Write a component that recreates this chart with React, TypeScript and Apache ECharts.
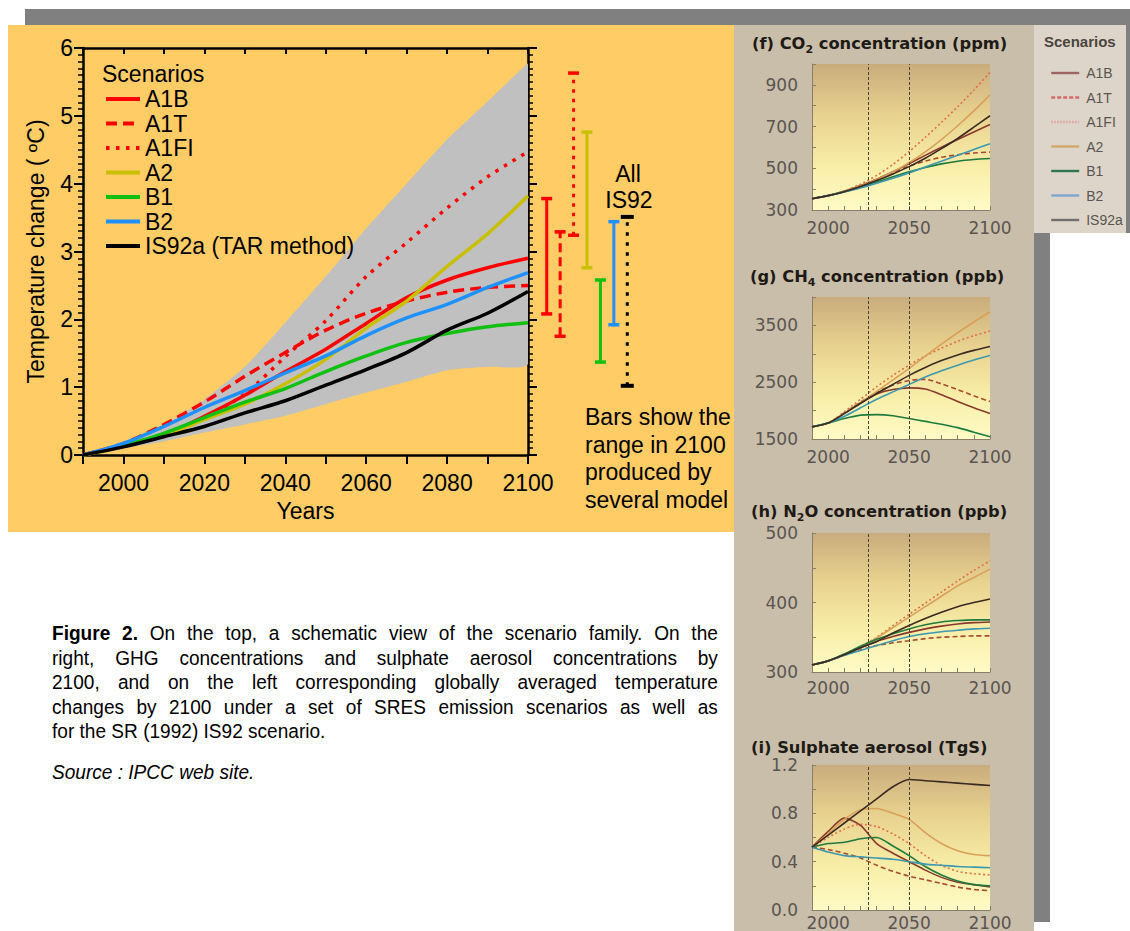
import React, { useEffect, useRef } from "react";
import * as echarts from "echarts";

// ---------------- data ----------------
const years = [1990, 2000, 2010, 2020, 2030, 2040, 2050, 2060, 2070, 2080, 2090, 2100];
const mainXLabels = [2000, 2020, 2040, 2060, 2080, 2100];
const smallXLabels = [2000, 2050, 2100];
const refYears = [2025, 2050];

const scenarioNames = ["A1B", "A1T", "A1FI", "A2", "B1", "B2", "IS92a (TAR method)"];
const tempA1B = [0, 0.14, 0.29, 0.57, 0.88, 1.23, 1.56, 1.94, 2.32, 2.58, 2.76, 2.9];
const tempA1T = [0, 0.17, 0.45, 0.78, 1.16, 1.51, 1.84, 2.09, 2.27, 2.4, 2.47, 2.5];
const tempA1FI = [0, 0.15, 0.3, 0.55, 0.9, 1.45, 1.98, 2.63, 3.13, 3.64, 4.1, 4.47];
const tempA2 = [0, 0.13, 0.29, 0.52, 0.75, 1.05, 1.41, 1.87, 2.27, 2.78, 3.26, 3.82];
const tempB1 = [0, 0.14, 0.32, 0.55, 0.78, 0.98, 1.23, 1.46, 1.66, 1.79, 1.89, 1.95];
const tempB2 = [0, 0.17, 0.42, 0.7, 0.95, 1.21, 1.46, 1.76, 2.02, 2.22, 2.47, 2.69];
const tempIS92a = [0, 0.12, 0.27, 0.42, 0.62, 0.8, 1.03, 1.26, 1.51, 1.84, 2.09, 2.41];
const envUpper = [0, 0.17, 0.45, 0.82, 1.3, 1.95, 2.63, 3.34, 4.0, 4.65, 5.21, 5.77];
const envLower = [0, 0.1, 0.2, 0.33, 0.45, 0.58, 0.75, 0.92, 1.08, 1.25, 1.3, 1.35];

const barNames = ["A1B", "A1T", "A1FI", "A2", "B1", "B2", "IS92"];
const barLow = [2.08, 1.75, 3.24, 2.76, 1.37, 1.92, 1.02];
const barHigh = [3.78, 3.29, 5.63, 4.76, 2.58, 3.44, 3.51];

const smallNames = ["A1B", "A1T", "A1FI", "A2", "B1", "B2", "IS92a"];
const co2A1B = [354, 369, 390, 417, 448, 483, 522, 562, 601, 638, 674, 710];
const co2A1T = [354, 369, 390, 417, 448, 480, 510, 535, 553, 565, 573, 578];
const co2A1FI = [354, 369, 392, 424, 466, 518, 580, 648, 720, 795, 875, 960];
const co2A2 = [354, 369, 389, 415, 446, 483, 527, 579, 638, 704, 775, 852];
const co2B1 = [354, 369, 388, 410, 434, 459, 483, 504, 521, 534, 542, 547];
const co2B2 = [354, 369, 386, 406, 428, 452, 478, 506, 534, 562, 590, 618];
const co2IS92a = [354, 369, 388, 413, 441, 473, 508, 548, 594, 643, 697, 752];

const ch4A1B = [1714, 1780, 1950, 2130, 2290, 2370, 2400, 2380, 2280, 2160, 2050, 1950];
const ch4A1T = [1714, 1780, 1960, 2150, 2320, 2450, 2530, 2550, 2470, 2370, 2260, 2160];
const ch4A1FI = [1714, 1780, 1980, 2200, 2420, 2620, 2800, 2960, 3100, 3220, 3320, 3400];
const ch4A2 = [1714, 1780, 1950, 2140, 2340, 2540, 2740, 2960, 3170, 3370, 3560, 3740];
const ch4B1 = [1714, 1780, 1860, 1920, 1930, 1910, 1860, 1810, 1760, 1700, 1620, 1540];
const ch4B2 = [1714, 1780, 1900, 2050, 2200, 2330, 2460, 2590, 2700, 2800, 2890, 2970];
const ch4IS92a = [1714, 1780, 1950, 2130, 2300, 2460, 2620, 2760, 2880, 2980, 3060, 3130];

const n2oA1B = [310, 316, 325, 335, 344, 351, 357, 362, 366, 369, 371, 372];
const n2oA1T = [310, 316, 324, 332, 338, 342, 345, 348, 350, 351, 352, 352];
const n2oA1FI = [310, 316, 326, 337, 350, 367, 383, 399, 415, 431, 446, 460];
const n2oA2 = [310, 316, 325, 336, 349, 364, 379, 394, 409, 424, 436, 448];
const n2oB1 = [310, 316, 326, 337, 347, 355, 362, 368, 372, 374, 375, 375];
const n2oB2 = [310, 316, 324, 331, 338, 345, 351, 355, 358, 360, 362, 363];
const n2oIS92a = [310, 316, 325, 335, 344, 356, 367, 377, 386, 394, 400, 405];

const so4A1B = [0.52, 0.65, 0.76, 0.7, 0.55, 0.47, 0.4, 0.33, 0.27, 0.23, 0.21, 0.19];
const so4A1T = [0.52, 0.5, 0.47, 0.43, 0.37, 0.32, 0.28, 0.25, 0.22, 0.19, 0.17, 0.16];
const so4A1FI = [0.52, 0.6, 0.67, 0.71, 0.69, 0.63, 0.55, 0.45, 0.37, 0.32, 0.3, 0.29];
const so4A2 = [0.52, 0.63, 0.75, 0.83, 0.84, 0.8, 0.75, 0.64, 0.55, 0.49, 0.46, 0.45];
const so4B1 = [0.52, 0.55, 0.56, 0.59, 0.6, 0.53, 0.45, 0.36, 0.29, 0.24, 0.21, 0.2];
const so4B2 = [0.52, 0.48, 0.45, 0.44, 0.43, 0.42, 0.4, 0.38, 0.37, 0.36, 0.355, 0.35];
const so4IS92a = [0.52, 0.62, 0.72, 0.82, 0.92, 1.02, 1.08, 1.07, 1.06, 1.05, 1.04, 1.03];

const co2Labels = [300, 500, 700, 900];
const ch4Labels = [1500, 2500, 3500];
const n2oLabels = [300, 400, 500];
const so4Labels = [0, 0.4, 0.8, 1.2];

const captionLines = [
  " On the top, a schematic view of the scenario family. On the",
  "right, GHG concentrations and sulphate aerosol concentrations by",
  "2100, and on the left corresponding globally averaged temperature",
  "changes by 2100 under a set of SRES emission scenarios as well as",
  "for the SR (1992) IS92 scenario.",
];

// ---------------- styles ----------------
const FONT = "'Liberation Sans', Arial, Helvetica, sans-serif";
const NARROW = "'Liberation Sans Narrow', 'Arial Narrow', 'Liberation Sans', sans-serif";
const DEJAVU = "'DejaVu Sans', Verdana, sans-serif";

const mainStyles: any[] = [
  { color: "#FF0000", type: "solid" },
  { color: "#FF0000", type: [11, 6] },
  { color: "#FF0000", type: [3.5, 6.5] },
  { color: "#C8C000", type: "solid" },
  { color: "#11C011", type: "solid" },
  { color: "#1E90FF", type: "solid" },
  { color: "#000000", type: "solid" },
];
const barStyles: any[] = [
  { color: "#FF0000", dash: null, cap: 5.5, capW: 3.5 },
  { color: "#FF0000", dash: [9, 5], cap: 5.5, capW: 3.5 },
  { color: "#FF0000", dash: [3.5, 6], cap: 5.5, capW: 3.5 },
  { color: "#C8C000", dash: null, cap: 5.5, capW: 3.5 },
  { color: "#11C011", dash: null, cap: 5.5, capW: 3.5 },
  { color: "#1E90FF", dash: null, cap: 5.5, capW: 3.5 },
  { color: "#000000", dash: [3.5, 6.5], cap: 6.5, capW: 4 },
];
const smallStyles: any[] = [
  { color: "#8A3A2C", type: "solid" },
  { color: "#A84A30", type: [5, 3] },
  { color: "#E07048", type: [2, 2.5] },
  { color: "#D9A058", type: "solid" },
  { color: "#1E7A3E", type: "solid" },
  { color: "#3E98B0", type: "solid" },
  { color: "#3B2A22", type: "solid" },
];
const legendStyles: any[] = [
  { color: "#9E6464", type: "solid" },
  { color: "#D46A6A", type: [4, 2] },
  { color: "#E2A0A0", type: [1.5, 1.5] },
  { color: "#D2A86A", type: "solid" },
  { color: "#2F7552", type: "solid" },
  { color: "#7FA6CE", type: "solid" },
  { color: "#707070", type: "solid" },
];

const pairs = (vals: number[]) => years.map((y, i) => [y, vals[i]]);

function buildLeft(): any {
  const mainValues = [tempA1B, tempA1T, tempA1FI, tempA2, tempB1, tempB2, tempIS92a];
  const axisLineStyle = { color: "#000", width: 2.5 };
  const series: any[] = [
    {
      type: "custom", name: "envelope", xAxisIndex: 0, yAxisIndex: 0, z: 1, silent: true,
      data: years.map((y, i) => [y, envLower[i], envUpper[i]]),
      renderItem: (params: any, api: any) => {
        if (params.dataIndex !== 0) return null;
        const up = years.map((y, i) => api.coord([y, envUpper[i]]));
        const lo = years.map((y, i) => api.coord([y, envLower[i]])).reverse();
        const pts = up.concat(lo);
        let minX = Infinity, minY = Infinity, maxX = -Infinity, maxY = -Infinity;
        pts.forEach((p: number[]) => {
          minX = Math.min(minX, p[0]); maxX = Math.max(maxX, p[0]);
          minY = Math.min(minY, p[1]); maxY = Math.max(maxY, p[1]);
        });
        return {
          type: "polygon",
          shape: { points: pts, smooth: 0.2, smoothConstraint: [[minX, minY], [maxX, maxY]] },
          style: { fill: "#C0C0C0" },
        };
      },
    },
  ];
  scenarioNames.forEach((name, i) => {
    series.push({
      type: "line", name, xAxisIndex: 0, yAxisIndex: 0,
      data: pairs(mainValues[i]), symbol: "none", smooth: 0.3,
      lineStyle: { color: mainStyles[i].color, width: 3.5, type: mainStyles[i].type, cap: "butt" },
      itemStyle: { color: mainStyles[i].color }, z: 3,
    });
  });
  series.push({
    type: "custom", name: "ranges", xAxisIndex: 2, yAxisIndex: 2, z: 3,
    data: barNames.map((n, i) => [i, barLow[i], barHigh[i]]),
    renderItem: (params: any, api: any) => {
      const s = barStyles[params.dataIndex];
      const lo = api.coord([api.value(0), api.value(1)]);
      const hi = api.coord([api.value(0), api.value(2)]);
      const lineStyle: any = { stroke: s.color, lineWidth: 3 };
      if (s.dash) lineStyle.lineDash = s.dash;
      return {
        type: "group",
        children: [
          { type: "line", shape: { x1: lo[0], y1: lo[1], x2: hi[0], y2: hi[1] }, style: lineStyle },
          { type: "line", shape: { x1: lo[0] - s.cap, y1: lo[1], x2: lo[0] + s.cap, y2: lo[1] }, style: { stroke: s.color, lineWidth: s.capW } },
          { type: "line", shape: { x1: hi[0] - s.cap, y1: hi[1], x2: hi[0] + s.cap, y2: hi[1] }, style: { stroke: s.color, lineWidth: s.capW } },
        ],
      };
    },
  });

  return {
    animation: false,
    backgroundColor: "transparent",
    textStyle: { fontFamily: FONT },
    grid: [
      { left: 75, top: 23, width: 445, height: 407 },
      { left: 532, top: 23, width: 94, height: 407 },
    ],
    xAxis: [
      {
        gridIndex: 0, type: "value", min: 1990, max: 2100, interval: 10,
        axisLine: { onZero: false, lineStyle: axisLineStyle },
        axisTick: { length: 9, lineStyle: { color: "#000", width: 2 } },
        axisLabel: {
          margin: 16, fontSize: 23, color: "#000", fontFamily: FONT,
          formatter: (v: number) => (mainXLabels.includes(v) ? String(v) : ""),
        },
        splitLine: { show: false },
        name: "Years", nameLocation: "middle", nameGap: 44,
        nameTextStyle: { fontSize: 23, color: "#000", fontFamily: FONT },
      },
      {
        gridIndex: 0, type: "value", position: "top", min: 1990, max: 2100, interval: 10,
        axisLine: { onZero: false, lineStyle: axisLineStyle },
        axisTick: { inside: true, length: 6, lineStyle: { color: "#000", width: 2 } },
        axisLabel: { show: false }, splitLine: { show: false },
      },
      { gridIndex: 1, type: "category", data: barNames, show: false, boundaryGap: true },
    ],
    yAxis: [
      {
        gridIndex: 0, type: "value", min: 0, max: 6, interval: 1,
        axisLine: { show: true, onZero: false, lineStyle: axisLineStyle },
        axisTick: { show: true, length: 9, lineStyle: { color: "#000", width: 2 } },
        minorTick: { show: true, splitNumber: 10, length: 5, lineStyle: { color: "#000", width: 1.5 } },
        axisLabel: { margin: 10, fontSize: 23, color: "#000", fontFamily: FONT },
        splitLine: { show: false }, minorSplitLine: { show: false },
        name: "Temperature change ( ºC)", nameLocation: "middle", nameGap: 36, nameRotate: 90,
        nameTextStyle: { fontSize: 23, color: "#000", fontFamily: FONT },
      },
      {
        gridIndex: 0, type: "value", position: "right", min: 0, max: 6, interval: 1,
        axisLine: { show: true, onZero: false, lineStyle: axisLineStyle },
        axisTick: { show: true, length: 9, lineStyle: { color: "#000", width: 2 } },
        minorTick: { show: true, splitNumber: 10, length: 5, lineStyle: { color: "#000", width: 1.5 } },
        axisLabel: { show: false }, splitLine: { show: false },
      },
      { gridIndex: 1, type: "value", min: 0, max: 6, show: false },
    ],
    legend: {
      orient: "vertical", left: 91, top: 57.5, itemWidth: 34, itemHeight: 14, itemGap: 1.5,
      selectedMode: false,
      textStyle: { fontSize: 23, color: "#000", fontFamily: FONT },
      itemStyle: { opacity: 0 },
      data: scenarioNames.map((n, i) => ({
        name: n,
        itemStyle: { opacity: 0 },
        lineStyle: { color: mainStyles[i].color, width: 4, type: mainStyles[i].type },
      })),
    },
    graphic: [
      { type: "text", x: 94, y: 49, style: { text: "Scenarios", fontSize: 23, fontFamily: FONT, fill: "#000", align: "left", verticalAlign: "middle", textAlign: "left", textVerticalAlign: "middle" } },
      { type: "text", x: 620, y: 149, style: { text: "All", fontSize: 23, fontFamily: FONT, fill: "#000", align: "center", verticalAlign: "middle", textAlign: "center", textVerticalAlign: "middle" } },
      { type: "text", x: 621, y: 175, style: { text: "IS92", fontSize: 23, fontFamily: FONT, fill: "#000", align: "center", verticalAlign: "middle", textAlign: "center", textVerticalAlign: "middle" } },
      {
        type: "text", x: 577, y: 378,
        style: { text: "Bars show the\nrange in 2100\nproduced by\nseveral model", fontSize: 23, lineHeight: 27.7, fontFamily: FONT, fill: "#000", align: "left", verticalAlign: "top", textAlign: "left", textVerticalAlign: "top" },
      },
    ],
    series,
  };
}

function buildRight(): any {
  const gradient = () =>
    new echarts.graphic.LinearGradient(0, 0, 0, 1, [
      { offset: 0, color: "#C9AC7C" },
      { offset: 0.35, color: "#E8D28F" },
      { offset: 0.7, color: "#F8EEA8" },
      { offset: 1, color: "#FFFBC6" },
    ]);
  const panels: any[] = [
    { title: "(f) CO{s|2} concentration (ppm)", tx: 18, ty: 18, top: 39, height: 146, min: 300, max: 1000, interval: 100, labels: co2Labels, fmt: (v: number) => String(v), xm: 9,
      data: [co2A1B, co2A1T, co2A1FI, co2A2, co2B1, co2B2, co2IS92a] },
    { title: "(g) CH{s|4} concentration (ppb)", tx: 16, ty: 251, top: 272, height: 142, min: 1500, max: 4000, interval: 500, labels: ch4Labels, fmt: (v: number) => String(v), xm: 9,
      data: [ch4A1B, ch4A1T, ch4A1FI, ch4A2, ch4B1, ch4B2, ch4IS92a] },
    { title: "(h) N{s|2}O concentration (ppb)", tx: 17, ty: 486, top: 508, height: 139, min: 300, max: 500, interval: 50, labels: n2oLabels, fmt: (v: number) => String(v), xm: 7,
      data: [n2oA1B, n2oA1T, n2oA1FI, n2oA2, n2oB1, n2oB2, n2oIS92a] },
    { title: "(i) Sulphate aerosol (TgS)", tx: 17, ty: 722, top: 740, height: 145, min: 0, max: 1.2, interval: 0.2, labels: so4Labels, fmt: (v: number) => v.toFixed(1), xm: 4,
      data: [so4A1B, so4A1T, so4A1FI, so4A2, so4B1, so4B2, so4IS92a] },
  ];
  const axisColor = "#8A7E6A";
  const grid = panels.map((p) => ({ left: 78, width: 178, top: p.top, height: p.height, show: true, borderWidth: 0, backgroundColor: gradient() }));
  const xAxis = panels.map((p, k) => ({
    gridIndex: k, type: "value", min: 1990, max: 2100, interval: 10,
    axisLine: { onZero: false, lineStyle: { color: axisColor, width: 1 } },
    axisTick: { inside: true, length: 4, lineStyle: { color: axisColor } },
    axisLabel: { margin: p.xm, fontSize: 17, fontFamily: DEJAVU, color: "#5A5550", formatter: (v: number) => (smallXLabels.includes(v) ? String(v) : "") },
    splitLine: { show: false },
  }));
  const yAxis = panels.map((p, k) => ({
    gridIndex: k, type: "value", min: p.min, max: p.max, interval: p.interval,
    axisLine: { show: true, onZero: false, lineStyle: { color: axisColor, width: 1 } },
    axisTick: { show: true, inside: true, length: 4, lineStyle: { color: axisColor } },
    axisLabel: {
      margin: 14, fontSize: 17, fontFamily: DEJAVU, color: "#5A5550",
      formatter: (v: number) => (p.labels.some((l: number) => Math.abs(l - v) < 1e-6) ? p.fmt(v) : ""),
    },
    splitLine: { show: false },
  }));
  const series: any[] = [];
  panels.forEach((p, k) => {
    smallNames.forEach((name, i) => {
      const s: any = {
        type: "line", name, xAxisIndex: k, yAxisIndex: k, data: pairs(p.data[i]), symbol: "none",
        smooth: 0.25,
        lineStyle: { color: smallStyles[i].color, width: 1.6, type: smallStyles[i].type },
        itemStyle: { color: smallStyles[i].color }, z: 3,
      };
      if (i === 0) {
        s.markLine = {
          silent: true, symbol: "none", label: { show: false },
          lineStyle: { color: "#4A4036", type: [3, 2], width: 1 },
          data: refYears.map((v) => ({ xAxis: v })),
        };
      }
      series.push(s);
    });
  });
  const graphic: any[] = panels.map((p) => ({
    type: "text", x: p.tx, y: p.ty,
    style: {
      text: p.title, fontSize: 16.3, fontWeight: "bold", fontFamily: DEJAVU, fill: "#1E1A16",
      align: "left", verticalAlign: "middle", textAlign: "left", textVerticalAlign: "middle",
      rich: { s: { fontSize: 11, fontWeight: "bold", fontFamily: DEJAVU, fill: "#1E1A16", padding: [12, 0, 0, 0] } },
    },
  }));
  graphic.push({
    type: "text", x: 310, y: 16,
    style: { text: "Scenarios", fontSize: 15, fontWeight: "bold", fontFamily: NARROW, fill: "#4A4540", align: "left", verticalAlign: "middle", textAlign: "left", textVerticalAlign: "middle" },
  });
  return {
    animation: false,
    backgroundColor: "transparent",
    grid, xAxis, yAxis, series, graphic,
    legend: {
      orient: "vertical", left: 311, top: 36, itemWidth: 28, itemHeight: 12, itemGap: 10.5,
      selectedMode: false,
      textStyle: { fontSize: 14, color: "#5A5550", fontFamily: NARROW, padding: [0, 0, 0, 2] },
      itemStyle: { opacity: 0 },
      data: smallNames.map((n, i) => ({
        name: n,
        itemStyle: { opacity: 0 },
        lineStyle: { color: legendStyles[i].color, width: 2.4, type: legendStyles[i].type },
      })),
    },
  };
}

export default function App() {
  const leftRef = useRef<HTMLDivElement>(null);
  const rightRef = useRef<HTMLDivElement>(null);
  useEffect(() => {
    const lc = echarts.init(leftRef.current as HTMLDivElement, undefined, { renderer: "svg" });
    lc.setOption(buildLeft());
    const rc = echarts.init(rightRef.current as HTMLDivElement, undefined, { renderer: "svg" });
    rc.setOption(buildRight());
    return () => {
      lc.dispose();
      rc.dispose();
    };
  }, []);

  const abs = (l: number, t: number, w: number, h: number, bg?: string): any => ({
    position: "absolute", left: l, top: t, width: w, height: h, background: bg,
  });

  return (
    <div style={{ position: "absolute", left: 0, top: 0, width: 1130, height: 931, background: "#FFFFFF", overflow: "hidden", fontFamily: FONT }}>
      <div style={abs(25, 9, 1105, 16, "#808080")} />
      <div style={abs(1126, 9, 4, 224, "#808080")} />
      <div style={abs(1034, 233, 16, 689, "#808080")} />
      <div style={abs(8, 25, 726, 507, "#FFCC66")} />
      <div ref={leftRef} style={abs(8, 25, 726, 507)} />
      <div style={abs(734, 25, 300, 906, "#C9BEAA")} />
      <div style={abs(1034, 25, 92, 208, "#DDD5C9")} />
      <div ref={rightRef} style={abs(734, 25, 392, 906)} />
      <div
        style={{
          position: "absolute", left: 52, top: 621, width: 716, transform: "scaleX(0.93)", transformOrigin: "0 0",
          fontFamily: FONT, fontSize: 20.5, lineHeight: "24.5px", color: "#000",
        }}
      >
        {captionLines.map((ln, i) => (
          <div key={i} style={{ textAlign: "justify", textAlignLast: i < captionLines.length - 1 ? "justify" : "left" } as any}>
            {i === 0 ? (
              <>
                <b>Figure 2.</b>
                {ln}
              </>
            ) : (
              ln
            )}
          </div>
        ))}
        <div style={{ marginTop: 16.5, fontStyle: "italic" }}>Source : IPCC web site.</div>
      </div>
    </div>
  );
}
